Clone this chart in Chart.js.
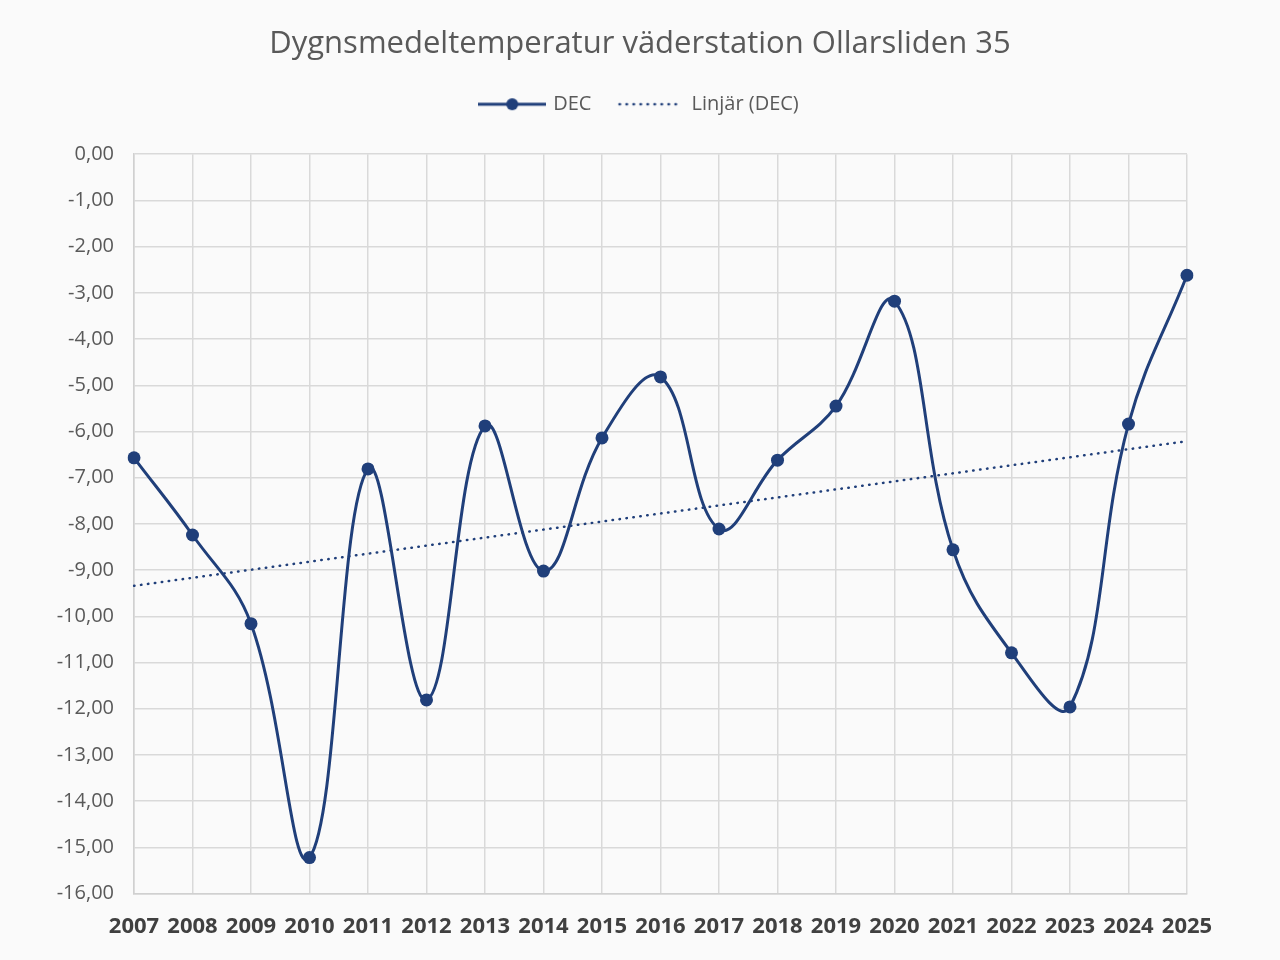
<!DOCTYPE html>
<html>
<head>
<meta charset="utf-8">
<script src="https://cdn.jsdelivr.net/npm/chart.js@4"></script>
<style>
  html, body { margin: 0; padding: 0; background: #fafafa; }
  #wrap { width: 1280px; height: 960px; position: relative; }
</style>
</head>
<body>
<div id="wrap"><canvas id="tempChart" width="1280" height="960"></canvas></div>
<script>
// Dygnsmedeltemperatur december, per år
const years = ['2007', '2008', '2009', '2010', '2011', '2012', '2013', '2014', '2015', '2016',
  '2017', '2018', '2019', '2020', '2021', '2022', '2023', '2024', '2025'];
const decTemps = [-6.57, -8.24, -10.16, -15.22, -6.81, -11.81, -5.88, -9.02, -6.14, -4.82,
  -8.11, -6.62, -5.45, -3.18, -8.56, -10.79, -11.96, -5.84, -2.62];
// trendlinjens ändpunkter (Linjär (DEC)), avlästa
const trendStart = -9.34;
const trendEnd = -6.21;
const trendValues = years.map((_, i) => i === 0 ? trendStart : (i === years.length - 1 ? trendEnd : null));

const LINE = '#203f7a';

function legendIcon(dotted) {
  const c = document.createElement('canvas');
  c.width = 68; c.height = 16;
  const g = c.getContext('2d');
  g.strokeStyle = LINE;
  g.fillStyle = LINE;
  if (dotted) {
    g.lineWidth = 2.5;
    g.lineCap = 'round';
    g.setLineDash([0.5, 6.5]);
    g.beginPath(); g.moveTo(3, 8); g.lineTo(66, 8); g.stroke();
  } else {
    g.lineWidth = 3;
    g.beginPath(); g.moveTo(0, 8); g.lineTo(68, 8); g.stroke();
    g.beginPath(); g.arc(34, 8, 6, 0, Math.PI * 2); g.fill();
  }
  return c;
}
const icons = [legendIcon(false), legendIcon(true)];

// extra luft under förklaringen, och titel/förklaring centrerade över hela bredden
const layoutTweaks = {
  id: 'layoutTweaks',
  beforeUpdate(chart) {
    const lg = chart.legend;
    if (lg && !lg._gapPatched) {
      const fit = lg.fit;
      lg.fit = function () { fit.call(this); this.height += 30; };
      lg._gapPatched = true;
    }
  },
  afterLayout(chart) {
    const area = chart.chartArea;
    const side = chart.width - area.right;
    [chart.titleBlock, chart.legend].forEach((b) => {
      if (!b) return;
      b.left = side;
      b.right = chart.width - side;
      b.width = b.right - b.left;
    });
  }
};

new Chart(document.getElementById('tempChart'), {
  type: 'line',
  data: {
    labels: years,
    datasets: [{
      label: 'DEC',
      data: decTemps,
      borderColor: LINE,
      backgroundColor: LINE,
      borderWidth: 3,
      pointRadius: 6.5,
      pointBackgroundColor: LINE,
      pointBorderWidth: 0,
      tension: 0.4,
    }, {
      label: 'Linjär (DEC)',
      data: trendValues,
      spanGaps: true,
      borderColor: LINE,
      borderWidth: 2.5,
      borderDash: [0.5, 6.5],
      borderCapStyle: 'round',
      pointRadius: 0,
      tension: 0,
    }]
  },
  plugins: [layoutTweaks],
  options: {
    responsive: false,
    animation: false,
    layout: { padding: { left: 20, right: 93, top: 20, bottom: 0 } },
    plugins: {
      title: {
        display: true,
        text: 'Dygnsmedeltemperatur väderstation Ollarsliden 35',
        color: '#595959',
        font: { family: 'Open Sans', size: 31, weight: 'normal' },
        padding: { top: 6, bottom: 3 }
      },
      legend: {
        labels: {
          usePointStyle: true,
          pointStyleWidth: 62,
          color: '#595959',
          font: { family: 'Open Sans', size: 20 },
          padding: 28,
          generateLabels: (chart) => chart.data.datasets.map((ds, i) => ({
            text: ds.label,
            pointStyle: icons[i],
            fontColor: '#595959',
            datasetIndex: i,
            hidden: false,
            lineWidth: 0,
          }))
        }
      },
      tooltip: { enabled: false }
    },
    scales: {
      x: {
        offset: false,
        grid: { color: '#d9d9d9', lineWidth: 1.5, drawTicks: false },
        border: { color: '#d0d0d0', width: 1.5 },
        ticks: {
          color: '#404040',
          padding: 20,
          maxRotation: 0,
          autoSkip: false,
          font: { family: 'Open Sans', size: 22, weight: 'bold' }
        }
      },
      y: {
        min: -16,
        max: 0,
        afterFit: (axis) => { axis.width = 114; },
        grid: { color: '#d9d9d9', lineWidth: 1.5, drawTicks: false },
        border: { color: '#d0d0d0', width: 1.5 },
        ticks: {
          stepSize: 1,
          color: '#595959',
          padding: 20,
          font: { family: 'Open Sans', size: 20 },
          callback: (v) => v.toFixed(2).replace('.', ',')
        }
      }
    }
  }
});
</script>
</body>
</html>
